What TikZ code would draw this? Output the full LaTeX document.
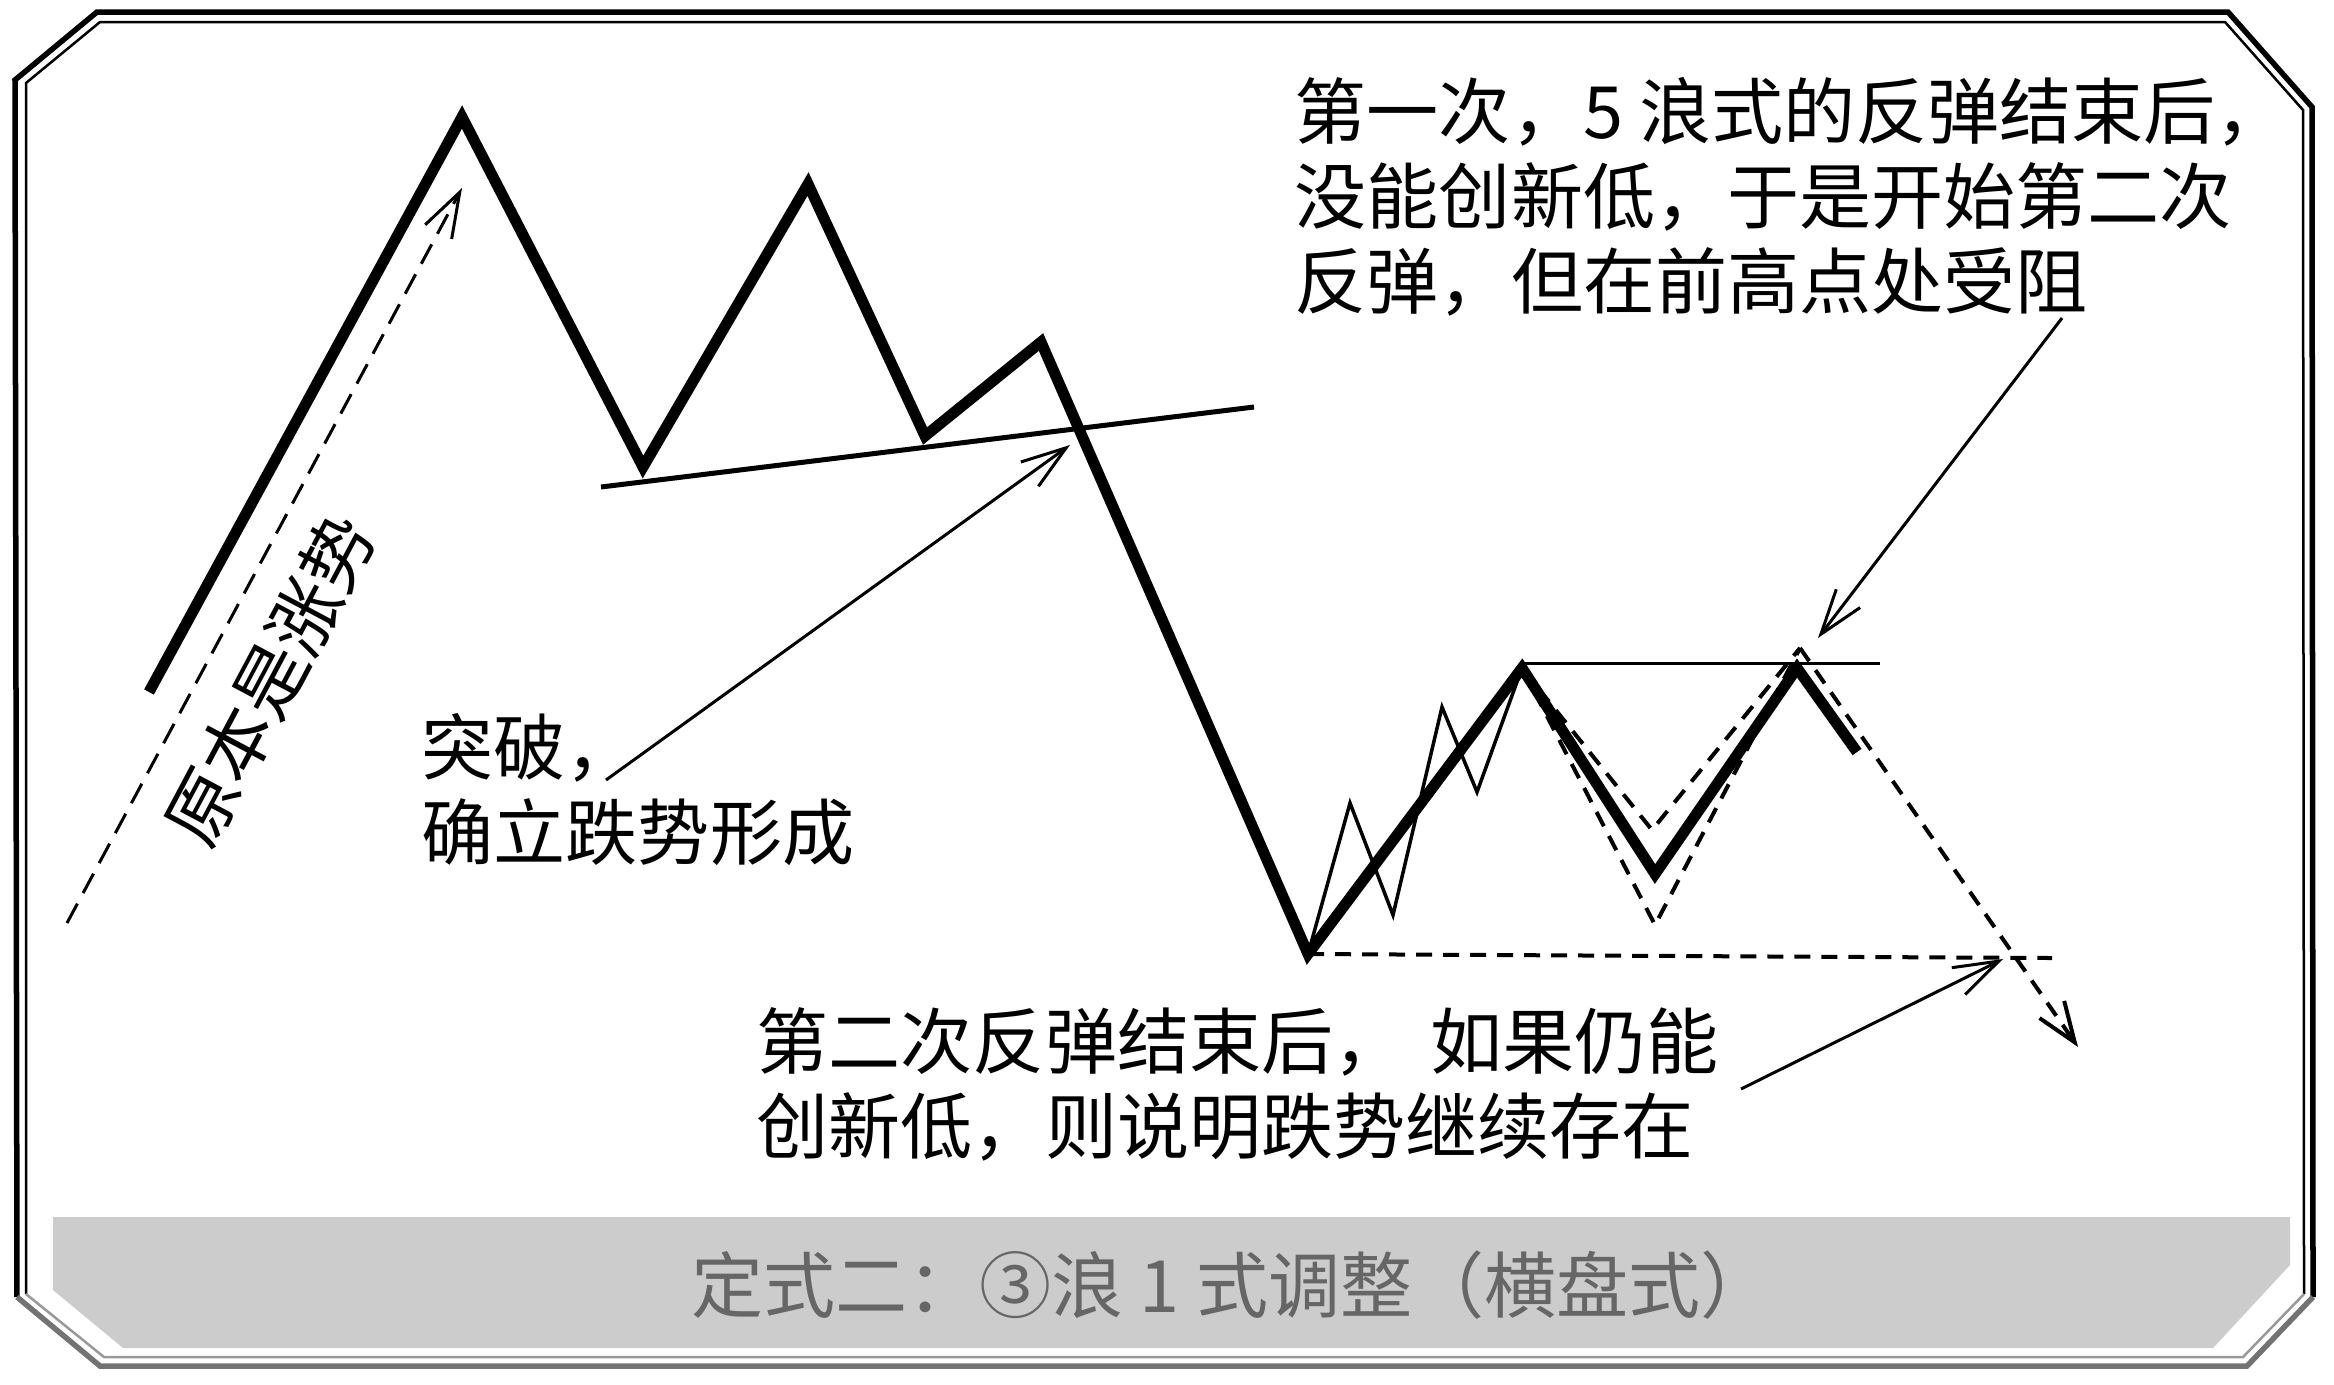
\documentclass[tikz,border=0pt]{standalone}
\usepackage{fontspec}
\setmainfont{Noto Sans CJK SC}
\usetikzlibrary{arrows.meta}

\begin{document}
\begin{tikzpicture}[x=0.01cm, y=-0.01cm,
    wave/.style={line width=0.11cm, line join=miter},
    ripple/.style={line width=0.035cm},
    guide/.style={line width=0.04cm, dash pattern=on 0.16cm off 0.11cm},
    pointer/.style={line width=0.03cm, -{Straight Barb[length=0.45cm, width=0.3cm]}},
    note/.style={font=\fontsize{20.5pt}{24.2pt}\selectfont, inner sep=0pt, align=left, anchor=west}]

    \useasboundingbox (0,0) rectangle (2334,1384);

    % Banda gris del titulo
    \fill[black!20] (53,1217) -- (2290,1217) -- (2290,1265) -- (2213,1348)
        -- (123,1348) -- (53,1290) -- cycle;

    % Marco doble (la parte baja sale gris)
    \draw[line width=0.055cm, line join=miter]
        (17,1297) -- (15,80) -- (97,12) -- (2228,12) -- (2312,107) -- (2313,1297);
    \draw[line width=0.055cm, black!55]
        (2313,1297) -- (2247,1366) -- (100,1366) -- (17,1297);
    \draw[line width=0.025cm]
        (26,1294) -- (26,83) -- (100,22) -- (2225,22) -- (2303,110) -- (2304,1294);
    \draw[line width=0.025cm, black!40]
        (2304,1294) -- (2243,1357) -- (104,1357) -- (26,1294);

    \coordinate (S)  at (149,692);    % inicio
    \coordinate (P1) at (462,117);    % techo
    \coordinate (T1) at (643,467);
    \coordinate (P2) at (808,184);
    \coordinate (T2) at (925,436);
    \coordinate (P3) at (1041,342);
    \coordinate (L)  at (1308,954);   % minimo
    \coordinate (P4) at (1522,668);   % fin de las 5 ondas
    \coordinate (T3) at (1655,874);
    \coordinate (P5) at (1797,668);   % segundo rebote
    \coordinate (E)  at (1857,752);

    % Linea de soporte y resistencia
    \draw[line width=0.05cm] (601,487) -- (1254,407);
    \draw[line width=0.03cm] (P4) ++(0,-5) -- (1880,663);

    % Tendencia alcista previa
    \draw[line width=0.03cm, dash pattern=on 0.22cm off 0.12cm,
        -{Straight Barb[length=0.45cm, width=0.3cm]}] (67,923) -- (462,188);

    % Cinco ondas pequenas
    \draw[ripple] (L) -- (1350,803) -- (1393,915) -- (1442,707) -- (1477,792) -- (P4);

    % Alternativas del segundo rebote
    \coordinate (V) at (1800,648);
    \draw[guide] (P4) -- (1655,925) -- (V);
    \draw[guide] (P4) -- (1652,830) -- (V);
    \draw[guide, -{Straight Barb[length=0.4cm, width=0.3cm]}] (V) -- (2078,1047);
    \draw[guide] (L) -- (2052,958);

    % Curso principal
    \draw[wave] (S) -- (P1) -- (T1) -- (P2) -- (T2) -- (P3) -- (L)
        -- (P4) -- (T3) -- (P5) -- (E);

    % Textos
    \node[note] (first) at (1294,197)
        {第一次，5 浪式的反弹结束后，\\没能创新低，于是开始第二次\\反弹，但在前高点处受阻};
    \node[note] (breakout) at (421,790) {突破，\\确立跌势形成};
    \node[note] (second) at (756,1084)
        {第二次反弹结束后，\hspace{0.25cm}如果仍能\\创新低，则说明跌势继续存在};
    \node[note, anchor=center, rotate=62] (trend) at (270,680) {原本是涨势};
    \node[note, anchor=center, text=black!60] (caption) at (1232,1285)
        {定式二：③浪 1 式调整（横盘式）};

    % Flechas de los textos
    \coordinate (firstfoot)  at (2062,318);
    \coordinate (firsttip)   at (1818,638);
    \coordinate (breakfoot)  at (606,780);
    \coordinate (breaktip)   at (1070,445);
    \coordinate (secondfoot) at (1741,1089);
    \coordinate (secondtip)  at (2003,959);
    \draw[pointer] (firstfoot) -- (firsttip);
    \draw[pointer] (breakfoot) -- (breaktip);
    \draw[pointer] (secondfoot) -- (secondtip);
\end{tikzpicture}
\end{document}
